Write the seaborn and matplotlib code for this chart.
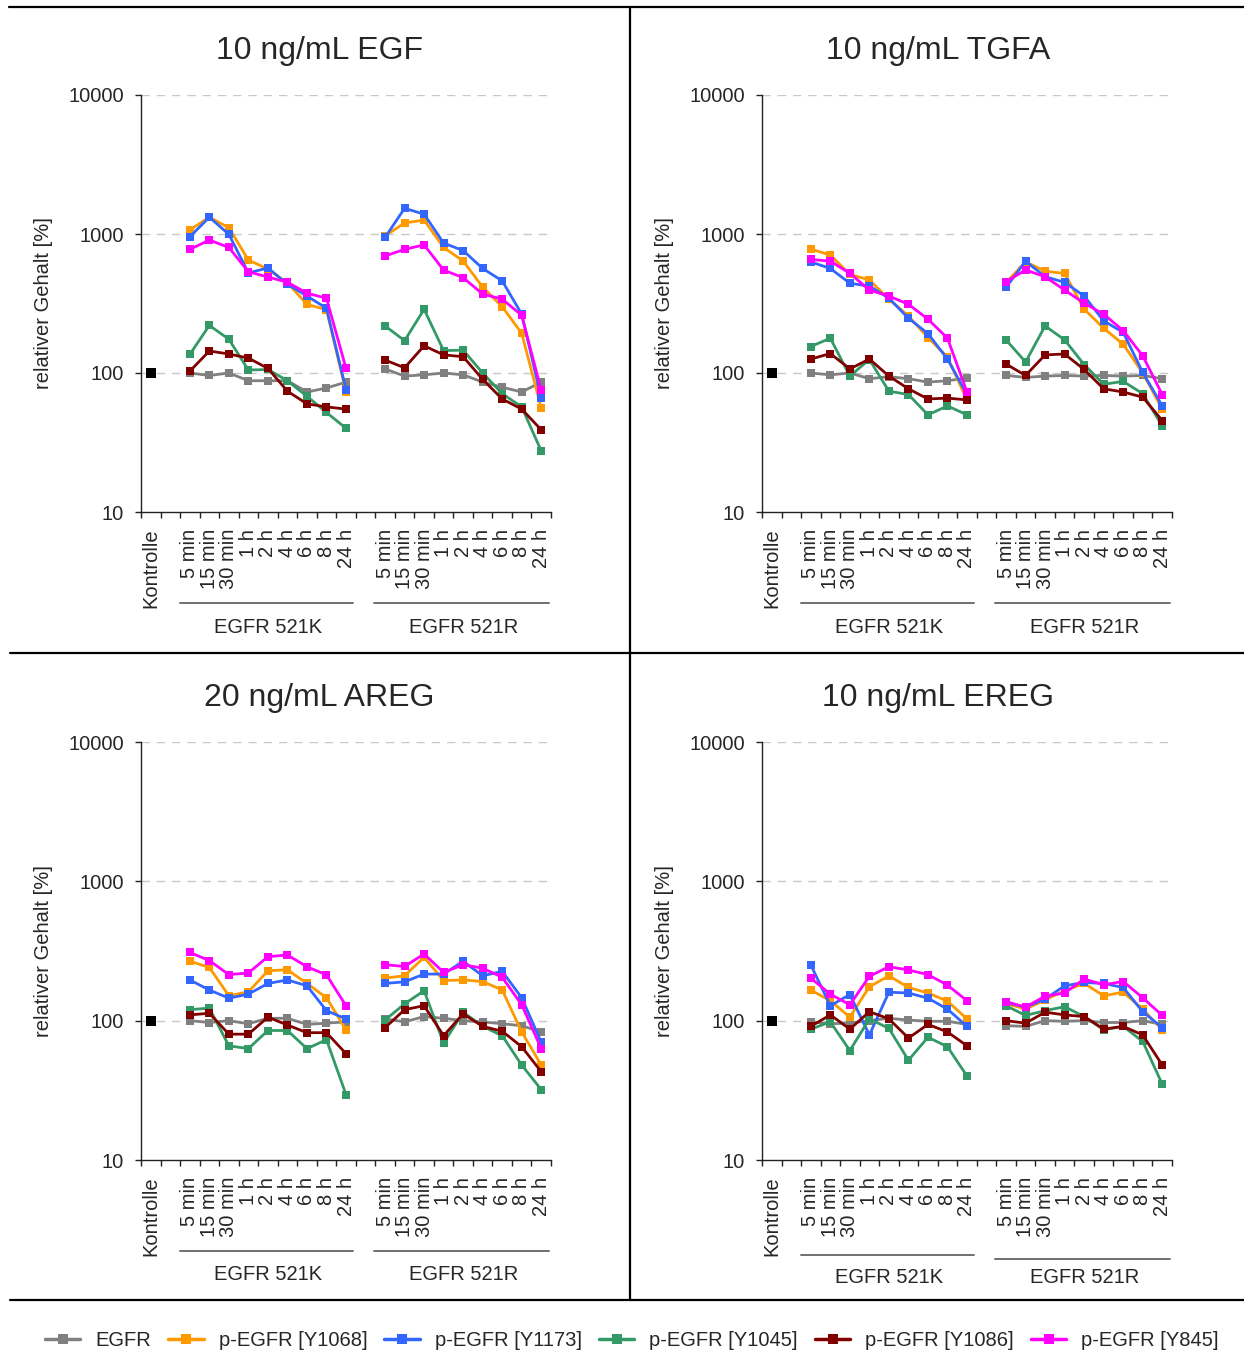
import numpy as np
import pandas as pd
import matplotlib
matplotlib.use("Agg")
import matplotlib.pyplot as plt
from matplotlib.lines import Line2D
from matplotlib import ticker
import seaborn as sns

# ---------------- data ----------------
time_labels = ["5 min", "15 min", "30 min", "1 h", "2 h", "4 h", "6 h", "8 h", "24 h"]
group_labels = ["EGFR 521K", "EGFR 521R"]
series_names = ["EGFR", "p-EGFR [Y1068]", "p-EGFR [Y1173]", "p-EGFR [Y1045]",
                "p-EGFR [Y1086]", "p-EGFR [Y845]"]
series_colors = ["#808080", "#FF9900", "#3366FF", "#339966", "#800000", "#FF00FF"]
panel_titles = ["10 ng/mL EGF", "10 ng/mL TGFA", "20 ng/mL AREG", "10 ng/mL EREG"]
kontrolle_value = 100

# each list: 9 values EGFR 521K followed by 9 values EGFR 521R
egf_egfr  = [100, 96, 100, 88, 88, 88, 73, 78, 86,   107, 95, 97, 100, 97, 86, 79, 73, 86]
egf_y1068 = [1070, 1320, 1110, 650, 560, 445, 312, 285, 73,   970, 1200, 1260, 800, 640, 415, 300, 193, 56]
egf_y1173 = [955, 1320, 995, 525, 570, 435, 358, 292, 76,   945, 1530, 1390, 860, 760, 565, 460, 265, 66]
egf_y1045 = [136, 220, 175, 105, 106, 88, 68, 52, 40,   218, 171, 287, 145, 146, 100, 71, 57, 27.5]
egf_y1086 = [103, 144, 137, 128, 108, 74, 60, 57, 55,   124, 109, 157, 135, 131, 90, 65, 55, 39]
egf_y845  = [775, 905, 800, 535, 490, 450, 375, 345, 108,   695, 775, 835, 550, 485, 370, 340, 260, 75]

tgfa_egfr  = [100, 97, 100, 91, 94, 91, 86, 88, 92,   96, 93, 95, 96, 95, 96, 95, 96, 91]
tgfa_y1068 = [780, 705, 513, 467, 340, 257, 180, 130, 64,   447, 630, 540, 520, 288, 210, 161, 100, 55]
tgfa_y1173 = [630, 565, 442, 422, 345, 248, 192, 126, 70,   413, 638, 493, 449, 358, 237, 196, 101, 58]
tgfa_y1045 = [155, 178, 95, 125, 74, 70, 50, 58, 50,   173, 120, 218, 173, 115, 83, 87, 71, 41.5]
tgfa_y1086 = [126, 138, 107, 126, 95, 77, 65, 66, 64,   116, 96, 135, 137, 106, 77, 73, 67, 45.5]
tgfa_y845  = [656, 638, 521, 395, 358, 312, 244, 178, 73,   454, 551, 493, 395, 318, 265, 202, 133, 70]

areg_egfr  = [100, 97, 100, 95, 104, 104, 94, 96, 98,   103, 98, 107, 104, 100, 98, 95, 92, 83]
areg_y1068 = [267, 241, 151, 161, 228, 232, 185, 146, 86,   202, 210, 285, 194, 196, 191, 166, 83, 48]
areg_y1173 = [196, 166, 145, 155, 185, 196, 178, 118, 103,   185, 190, 216, 216, 267, 210, 226, 146, 70]
areg_y1045 = [120, 123, 66, 63, 85, 85, 63, 73, 29.5,   101, 132, 164, 69, 115, 91, 78, 48, 32]
areg_y1086 = [110, 113, 80, 80, 106, 93, 82, 82, 58,   89, 120, 128, 78, 112, 91, 84, 65, 43]
areg_y845  = [309, 270, 214, 220, 288, 296, 244, 213, 128,   252, 245, 301, 222, 252, 238, 205, 130, 63]

ereg_egfr  = [98, 95, 96, 100, 104, 101, 99, 99, 94,   92, 91, 100, 99, 100, 97, 97, 100, 94]
ereg_y1068 = [166, 139, 106, 175, 210, 173, 158, 138, 103,   133, 121, 141, 164, 185, 151, 160, 121, 86]
ereg_y1173 = [251, 128, 154, 79, 160, 158, 145, 121, 91,   135, 125, 143, 178, 188, 185, 173, 116, 89]
ereg_y1045 = [87, 98, 61, 103, 88, 52, 76, 65, 40,   128, 109, 118, 126, 107, 86, 91, 71, 35]
ereg_y1086 = [91, 110, 87, 116, 103, 75, 94, 83, 66,   100, 96, 115, 110, 107, 87, 91, 79, 48]
ereg_y845  = [202, 155, 130, 208, 244, 231, 214, 180, 139,   137, 125, 150, 158, 199, 181, 191, 146, 109]

panel_series = [
    [egf_egfr, egf_y1068, egf_y1173, egf_y1045, egf_y1086, egf_y845],
    [tgfa_egfr, tgfa_y1068, tgfa_y1173, tgfa_y1045, tgfa_y1086, tgfa_y845],
    [areg_egfr, areg_y1068, areg_y1173, areg_y1045, areg_y1086, areg_y845],
    [ereg_egfr, ereg_y1068, ereg_y1173, ereg_y1045, ereg_y1086, ereg_y845],
]

# ---------------- styling ----------------
sns.set_theme(style="ticks")
plt.rcParams["font.family"] = ["Liberation Sans", "DejaVu Sans"]
plt.rcParams["axes.linewidth"] = 1.0

W, H = 1244, 1367
fig = plt.figure(figsize=(W / 100, H / 100), dpi=100)

FS = 14.5
n_t = len(time_labels)
# category index positions: 0 = Kontrolle, 1 = gap, 2..10 = 521K, 11 = gap, 12..20 = 521R
pos_k = list(range(2, 2 + n_t))
pos_r = list(range(3 + n_t, 3 + 2 * n_t))
n_slots = 3 + 2 * n_t

# panel geometry in pixels: (axes left, axes top, axes bottom, title center x, title center y)
geo = [
    (141, 95, 512, 319, 51),
    (762, 95, 512, 938, 51),
    (141, 742, 1160, 319, 698),
    (762, 742, 1160, 938, 698),
]
axw = 410
group_line_y = [(-0.218, -0.218), (-0.218, -0.218), (-0.218, -0.218), (-0.227, -0.237)]
group_text_y = [-0.277, -0.277, -0.275, -0.28]

for p in range(4):
    left, top, bot, tcx, tcy = geo[p]
    ax = fig.add_axes([left / W, 1 - bot / H, axw / W, (bot - top) / H])

    rows = []
    for s_name, vals in zip(series_names, panel_series[p]):
        for i in range(n_t):
            rows.append({"x": pos_k[i], "value": vals[i], "series": s_name, "group": group_labels[0]})
            rows.append({"x": pos_r[i], "value": vals[n_t + i], "series": s_name, "group": group_labels[1]})
    df = pd.DataFrame(rows)

    ax.set_yscale("log")
    # dashed grid
    for gv in [100, 1000, 10000]:
        ax.axhline(gv, color="#c8c8c8", lw=1.0, ls=(0, (6, 5)), zorder=0)

    sns.lineplot(data=df, x="x", y="value", hue="series", units="group", estimator=None,
                 hue_order=series_names, palette=series_colors, marker="s", markersize=6.2,
                 markeredgewidth=0, linewidth=2.0, legend=False, ax=ax, sort=True)
    sns.scatterplot(x=[0], y=[kontrolle_value], marker="s", color="black", s=60,
                    linewidth=0, ax=ax, zorder=5)

    ax.set_ylim(10, 10000)
    ax.set_xlim(-0.5, n_slots - 0.5)
    ax.yaxis.set_major_locator(ticker.FixedLocator([10, 100, 1000, 10000]))
    ax.yaxis.set_major_formatter(ticker.FuncFormatter(lambda v, _: f"{v:g}"))
    ax.yaxis.set_minor_locator(ticker.NullLocator())
    ax.tick_params(axis="y", which="major", length=4.5, width=1.0, pad=8, labelsize=FS,
                   direction="out", color="#222222")

    ax.set_xticks(np.arange(-0.5, n_slots, 1.0))
    ax.set_xticklabels([])
    ax.tick_params(axis="x", which="major", length=4, width=1.0, direction="out", color="#222222")
    ax.set_xticks([0] + pos_k + pos_r, minor=True)
    ax.set_xticklabels(["Kontrolle"] + time_labels + time_labels, minor=True, rotation=90,
                       fontsize=FS)
    ax.tick_params(axis="x", which="minor", length=0, pad=12)

    for sp in ["top", "right"]:
        ax.spines[sp].set_visible(False)
    for sp in ["left", "bottom"]:
        ax.spines[sp].set_color("#222222")

    ax.set_xlabel("")
    ax.set_ylabel("relativer Gehalt [%]", fontsize=FS)
    ax.yaxis.set_label_coords(-0.215, 0.5)

    # group brackets under axis
    trans = ax.get_xaxis_transform()
    ax.plot([1.5, 10.35], [group_line_y[p][0]] * 2, transform=trans, clip_on=False,
            color="#707070", lw=1.4)
    ax.plot([11.45, 20.4], [group_line_y[p][1]] * 2, transform=trans, clip_on=False,
            color="#707070", lw=1.4)
    ax.text(np.mean(pos_k), group_text_y[p], group_labels[0], transform=trans,
            ha="center", va="center", fontsize=FS)
    ax.text(np.mean(pos_r), group_text_y[p], group_labels[1], transform=trans,
            ha="center", va="center", fontsize=FS)

    fig.text(tcx / W, 1 - tcy / H, panel_titles[p], ha="center", va="center", fontsize=23)

# frame lines
def hline(y, x0, x1):
    fig.add_artist(Line2D([x0 / W, x1 / W], [1 - y / H, 1 - y / H], transform=fig.transFigure,
                          color="black", lw=1.6))

def vline(x, y0, y1):
    fig.add_artist(Line2D([x / W, x / W], [1 - y0 / H, 1 - y1 / H], transform=fig.transFigure,
                          color="black", lw=1.6))

hline(7, 9, 1244)
hline(653, 10, 1244)
hline(1300, 10, 1244)
vline(630, 7, 1300)

# legend
handles = [Line2D([0], [0], color=c, lw=2.5, marker="s", markersize=7, markeredgewidth=0)
           for c in series_colors]
fig.legend(handles, series_names, loc="center", bbox_to_anchor=(632 / W, 1 - 1341 / H),
           ncol=6, frameon=False, fontsize=FS, handlelength=1.75, handletextpad=0.75,
           columnspacing=0.85)

fig.savefig("out.png", dpi=100, facecolor="white")
